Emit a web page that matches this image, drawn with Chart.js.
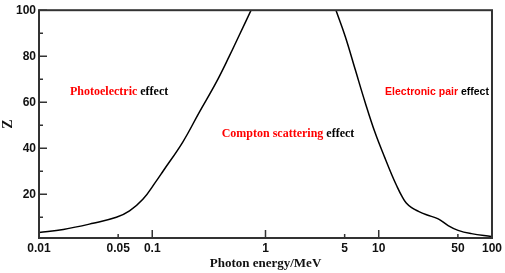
<!DOCTYPE html>
<html>
<head>
<meta charset="utf-8">
<script src="https://cdn.jsdelivr.net/npm/chart.js@4.4.1/dist/chart.umd.min.js"></script>
<style>
  html, body { margin: 0; padding: 0; background: #fff; }
  #wrap { width: 505px; height: 273px; }
</style>
</head>
<body>
<div id="wrap"><canvas id="myChart"></canvas></div>
<script>
// photoelectric / compton boundary
const energyLeft = [0.01, 0.0164, 0.030, 0.0482, 0.063, 0.0826, 0.108, 0.124, 0.186, 0.260, 0.365, 0.478, 0.585, 0.746];
const zLeft      = [3.4, 4.7, 7.4, 10.0, 12.8, 17.8, 25.6, 29.9, 42.7, 55.6, 68.4, 79.9, 89.0, 100];

// compton / pair boundary
const energyRight = [4.19, 5.07, 6.21, 7.60, 9.31, 11.4, 13.0, 14.4, 16.0, 17.5, 19.5, 22.4, 26.4, 33.5, 41.0, 50.2, 65.8, 98.6];
const zRight      = [100, 88.5, 74.1, 59.8, 46.6, 35.5, 28.6, 23.7, 19.2, 16.2, 14.2, 12.6, 11.1, 9.3, 6.4, 4.3, 2.9, 1.7];

const xTicks = [0.01, 0.05, 0.1, 1, 5, 10, 50, 100];
const xMajor = [0.01, 0.1, 1, 10, 100];
const yTicks = [20, 40, 60, 80, 100];
const yMinor = [10, 30, 50, 70, 90];

// region labels: red part, black part, anchor (centre) in data units
const regionRed    = ["Photoelectric", "Compton scattering", "Electronic pair"];
const regionBlack  = [" effect", " effect", " effect"];
const regionEnergy = [0.051, 1.58, 32.7];
const regionZ      = [64.5, 46.3, 64.5];
const regionSerif  = [true, true, false];

const frameColor = "#333";

const framePlugin = {
  id: "frame",
  afterDraw(chart) {
    const { ctx, chartArea: a, scales: { x, y } } = chart;
    ctx.save();
    ctx.strokeStyle = frameColor;
    ctx.lineWidth = 2;
    ctx.strokeRect(a.left, a.top, a.right - a.left, a.bottom - a.top);

    ctx.lineWidth = 1.5;
    ctx.beginPath();
    xTicks.forEach(v => {
      const px = x.getPixelForValue(v);
      const len = xMajor.includes(v) ? 8 : 4;
      ctx.moveTo(px, a.bottom);
      ctx.lineTo(px, a.bottom - len);
    });
    yTicks.forEach(v => {
      const py = y.getPixelForValue(v);
      ctx.moveTo(a.left, py);
      ctx.lineTo(a.left + 8, py);
    });
    yMinor.forEach(v => {
      const py = y.getPixelForValue(v);
      ctx.moveTo(a.left, py);
      ctx.lineTo(a.left + 4, py);
    });
    ctx.stroke();

    // region labels
    regionRed.forEach((red, i) => {
      const black = regionBlack[i];
      ctx.font = regionSerif[i]
        ? "bold 12px 'Liberation Serif', 'Times New Roman', serif"
        : "bold 10.5px 'Liberation Sans', Arial, sans-serif";
      const w1 = ctx.measureText(red).width;
      const w2 = ctx.measureText(black).width;
      const cx = x.getPixelForValue(regionEnergy[i]);
      const cy = y.getPixelForValue(regionZ[i]);
      const start = cx - (w1 + w2) / 2;
      ctx.textBaseline = "middle";
      ctx.textAlign = "left";
      ctx.fillStyle = "#ff0000";
      ctx.fillText(red, start, cy);
      ctx.fillStyle = "#000";
      ctx.fillText(black, start + w1, cy);
    });
    ctx.restore();
  }
};

const ctx = document.getElementById("myChart").getContext("2d");

const myChart = new Chart(ctx, {
  type: "line",
  data: {
    datasets: [{
      label: "Photoelectric/Compton",
      data: energyLeft.map((e, i) => ({ x: e, y: zLeft[i] })),
      borderColor: "#000",
      borderWidth: 1.5,
      pointRadius: 0,
      tension: 0.4,
      fill: false
    }, {
      label: "Compton/Pair",
      data: energyRight.map((e, i) => ({ x: e, y: zRight[i] })),
      borderColor: "#000",
      borderWidth: 1.5,
      pointRadius: 0,
      tension: 0.4,
      fill: false
    }]
  },
  options: {
    responsive: true,
    maintainAspectRatio: false,
    animation: false,
    layout: { padding: { top: 6, right: 11, left: 0, bottom: 0 } },
    scales: {
      x: {
        type: "logarithmic",
        min: 0.01,
        max: 100,
        afterBuildTicks: (scale) => { scale.ticks = xTicks.map(v => ({ value: v })); },
        afterFit: (scale) => { scale.height = 35; },
        ticks: {
          color: "#111",
          padding: 3,
          maxRotation: 0,
          autoSkip: false,
          font: { family: "'Liberation Sans', Arial, sans-serif", size: 12, weight: "bold" },
          callback: (value) => String(value)
        },
        grid: { display: false, drawTicks: false },
        border: { display: false },
        title: {
          display: true,
          text: "Photon energy/MeV",
          color: "#111",
          padding: { top: 0, bottom: 2 },
          font: { family: "'Liberation Serif', 'Times New Roman', serif", size: 13, weight: "bold" }
        }
      },
      y: {
        type: "linear",
        min: 1,
        max: 100,
        afterBuildTicks: (scale) => { scale.ticks = yTicks.map(v => ({ value: v })); },
        afterFit: (scale) => { scale.width = 39; },
        ticks: {
          color: "#111",
          padding: 3,
          font: { family: "'Liberation Sans', Arial, sans-serif", size: 12, weight: "bold" }
        },
        grid: { display: false, drawTicks: false },
        border: { display: false },
        title: {
          display: true,
          text: "Z",
          color: "#111",
          padding: { top: 0, bottom: 0 },
          font: { family: "'Liberation Serif', 'Times New Roman', serif", size: 14, weight: "bold" }
        }
      }
    },
    plugins: {
      legend: { display: false },
      tooltip: { enabled: false }
    }
  },
  plugins: [framePlugin]
});
</script>
</body>
</html>
